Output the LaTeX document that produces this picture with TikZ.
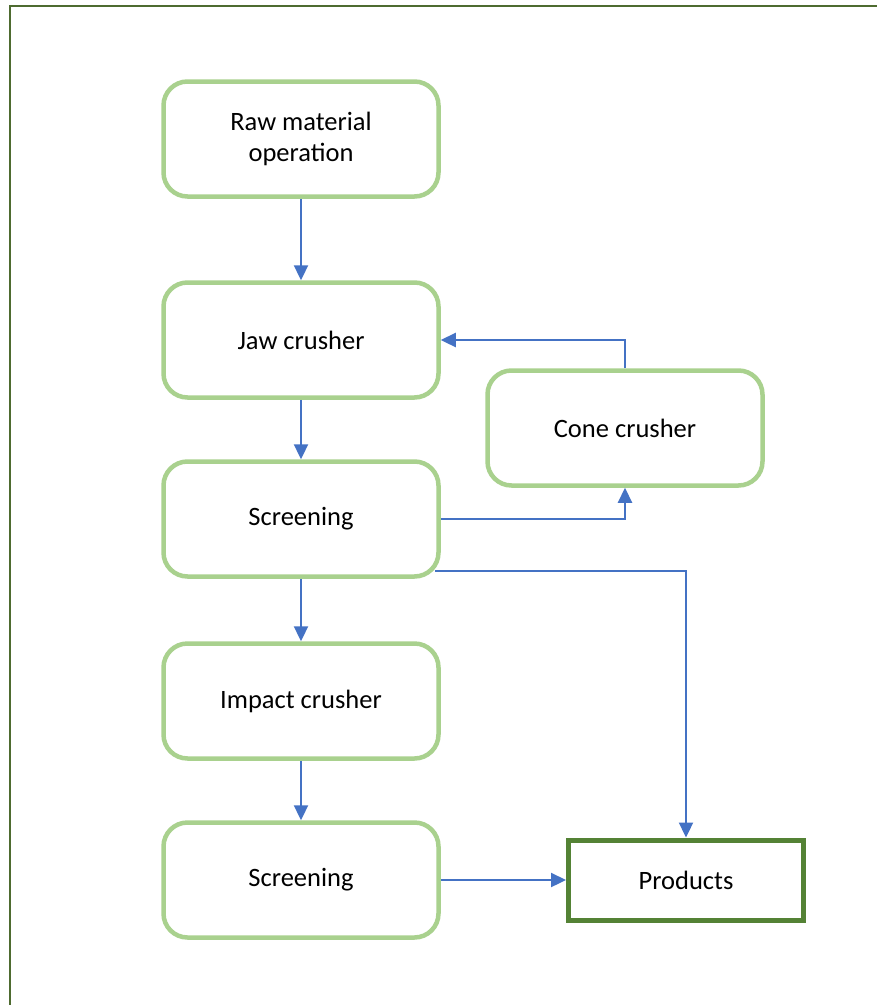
\documentclass[tikz,border=0pt]{standalone}
\usepackage{fontspec}
\setmainfont{Carlito}
\usetikzlibrary{arrows.meta}
\definecolor{stagegreen}{HTML}{A9D18E}
\definecolor{darkgreen}{HTML}{548235}
\definecolor{framegreen}{HTML}{4E6B30}
\definecolor{flowblue}{HTML}{4472C4}
\begin{document}
\begin{tikzpicture}[x=1pt, y=-1pt,
        stage/.style={draw=stagegreen, line width=4.5pt, rounded corners=24pt, fill=white,
            minimum width=275pt, minimum height=115pt, align=center,
            font=\fontsize{26.5}{31.5}\selectfont},
        outbox/.style={draw=darkgreen, line width=5pt, fill=white,
            minimum width=235pt, minimum height=80pt,
            font=\fontsize{26.5}{31.5}\selectfont},
        flow/.style={draw=flowblue, line width=2.3pt,
            -{Triangle[length=15pt, width=14pt]}}]
    \clip (0, 0) rectangle (877, 1005);
    \draw[framegreen, line width=2.6pt] (10, 6) rectangle (920, 1040);
    % stages
    \node[stage] (raw) at (301, 139) {Raw material\\operation};
    \node[stage] (jaw) at (301, 340) {Jaw crusher};
    \node[stage] (cone) at (625, 428) {Cone crusher};
    \node[stage] (scr1) at (301, 519) {Screening};
    \node[stage] (impact) at (301, 701) {Impact crusher};
    \node[stage] (scr2) at (301, 880) {Screening};
    \node[outbox] (prod) at (686, 880) {Products};
    % flows
    \draw[flow] (raw) -- (jaw);
    \draw[flow] (jaw) -- (scr1);
    \draw[flow] (scr1) -- (impact);
    \draw[flow] (impact) -- (scr2);
    \draw[flow] (scr2) -- (prod);
    \draw[flow] (cone.north) |- (jaw.east);
    \draw[flow] (scr1.east) -| (cone.south);
    \draw[flow] ([xshift=-6pt, yshift=8pt]scr1.south east) -| (prod.north);
\end{tikzpicture}
\end{document}
